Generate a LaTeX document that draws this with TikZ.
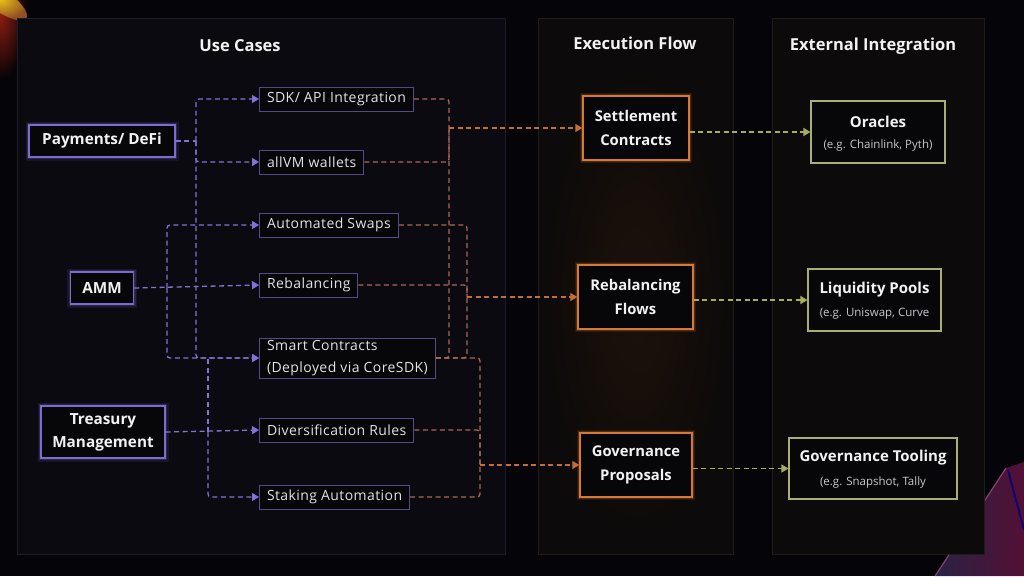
\documentclass[tikz,border=0pt]{standalone}
\usepackage{fontspec}
\setmainfont{Open Sans}
\newfontfamily\midfont[LetterSpace=3]{Open Sans}
\usetikzlibrary{arrows.meta}
\definecolor{bgc}{HTML}{050408}
\definecolor{panelA}{HTML}{0B0A10}
\definecolor{panelAb}{HTML}{1E1C2A}
\definecolor{panelB}{HTML}{0C0A0A}
\definecolor{panelBb}{HTML}{221C18}
\definecolor{purB}{HTML}{7E6BD2}
\definecolor{purM}{HTML}{544A88}
\definecolor{purL}{HTML}{8372D6}
\definecolor{oraB}{HTML}{D57838}
\definecolor{oraL}{HTML}{C46D38}
\definecolor{oraF}{HTML}{A8685A}
\definecolor{grnB}{HTML}{A9AF74}
\definecolor{grnL}{HTML}{A6AE5C}
\definecolor{txt}{HTML}{F2F2F2}
\definecolor{mtxt}{HTML}{E2E2E6}
\definecolor{subt}{HTML}{C8C8C8}
\definecolor{nodefill}{HTML}{070609}
\begin{document}
\begin{tikzpicture}[x=1pt,y=-1pt,
  panel/.style={draw=panelAb,fill=panelA,line width=0.8pt},
  panelx/.style={draw=panelBb,fill=panelB,line width=0.8pt},
  ttl/.style={text=txt,font=\bfseries\fontsize{16.5}{18}\selectfont},
  pnode/.style={draw=purB,fill=nodefill,line width=1.4pt,text=txt,align=center,
    font=\bfseries\fontsize{15.3}{23}\selectfont,
    preaction={draw=purB,line width=7pt,opacity=0.12},
    preaction={draw=purB,line width=4pt,opacity=0.2}},
  mnode/.style={draw=purM,fill=nodefill,line width=1pt,text=mtxt,align=left,anchor=west,
    font=\midfont\fontsize{14}{22}\selectfont,inner xsep=7.5pt,inner ysep=0pt,minimum height=24pt},
  onode/.style={draw=oraB,fill=nodefill,line width=1.4pt,text=txt,align=center,
    font=\bfseries\fontsize{14.8}{24}\selectfont,
    preaction={draw=oraB,line width=6pt,opacity=0.12},
    preaction={draw=oraB,line width=3.5pt,opacity=0.2}},
  gnode/.style={draw=grnB,fill=nodefill,line width=1.1pt},
  gtitle/.style={text=txt,font=\bfseries\fontsize{15}{18}\selectfont},
  subl/.style={text=subt,font=\fontsize{11.5}{13}\selectfont},
  pd/.style={draw=purL,line width=1.3pt,dash pattern=on 5pt off 3.5pt,rounded corners=3pt},
  pa/.style={pd,-{Triangle[length=7pt,width=8pt]}},
  od/.style={draw=oraF,line width=1.3pt,dash pattern=on 5pt off 3.5pt,rounded corners=3pt},
  oa/.style={od,draw=oraL,-{Triangle[length=7pt,width=8pt]}},
  ga/.style={draw=grnL,line width=1.3pt,dash pattern=on 5pt off 3.5pt,-{Triangle[length=7pt,width=8pt]}}
]
\fill[bgc] (0,0) rectangle (1024,576);
\useasboundingbox (0,0) rectangle (1024,576);
% decorations
\begin{scope}
\clip (0,0) rectangle (1024,576);
\shade[inner color=red!60!oraB!70!black,outer color=bgc,opacity=0.9] (0,10) ellipse (28 and 70);
\shade[inner color=yellow!60!oraB,outer color=oraB!70!black,opacity=0.95,rotate around={-35:(0,0)}] (0,0) ellipse (32 and 11);
\shade[left color=purB!40!black,right color=purple!70!purB!60!black,opacity=0.8]
  (935,576) -- (1006,468) -- (1024,462) -- (1024,576) -- cycle;
\draw[red!40!purB!80!white,line width=1.2pt,opacity=0.6] (935,576) -- (1006,468);
\draw[blue!50!black,line width=2pt,opacity=0.8] (1008,470) -- (1024,530);
\end{scope}
% panels
\draw[panel] (17,18) rectangle (505,554);
\draw[panelx] (538,18) rectangle (733,554);
\draw[panelx] (772,18) rectangle (984,554);
\shade[inner color=oraB!22!black,outer color=panelB,opacity=0.5] (636,300) ellipse (95 and 240);
\node[ttl] (t1) at (240,46) {Use Cases};
\node[ttl] (t2) at (635,43) {Execution Flow};
\node[ttl] (t3) at (873,46) {External Integration};
% left nodes
\node[pnode,minimum width=146pt,minimum height=32pt] (pay) at (102,141) {Payments/ DeFi};
\node[pnode,minimum width=63pt,minimum height=32pt] (amm) at (102,288) {AMM};
\node[pnode,minimum width=124pt,minimum height=52pt] (tre) at (103,432) {Treasury\\Management};
% middle nodes
\node[mnode] (sdk) at (259,99) {SDK/ API Integration};
\node[mnode] (avm) at (259,162) {allVM wallets};
\node[mnode] (swp) at (259,225) {Automated Swaps};
\node[mnode] (reb) at (259,285) {Rebalancing};
\node[mnode,minimum height=40pt] (sc) at (259,358) {Smart Contracts\\(Deployed via CoreSDK)};
\node[mnode] (div) at (259,430) {Diversification Rules};
\node[mnode] (sta) at (259,497) {Staking Automation};
% execution nodes
\node[onode,minimum width=106pt,minimum height=64pt] (set) at (636,128) {Settlement\\Contracts};
\node[onode,minimum width=115pt,minimum height=64pt] (rfl) at (635.5,297) {Rebalancing\\Flows};
\node[onode,minimum width=112pt,minimum height=64pt] (gov) at (636,465) {Governance\\Proposals};
% external nodes
\node[gnode,minimum width=134pt,minimum height=62pt] (ora) at (878,132) {};
\node[gtitle] (orat) at (878,122) {Oracles};
\node[subl] (oras) at (878,146) {(e.g. Chainlink, Pyth)};
\node[gnode,minimum width=133pt,minimum height=62pt] (liq) at (874.5,300) {};
\node[gtitle] (liqt) at (874.5,290) {Liquidity Pools};
\node[subl] (liqs) at (874.5,314) {(e.g. Uniswap, Curve};
\node[gnode,minimum width=168pt,minimum height=61pt] (gto) at (873,468.5) {};
\node[gtitle] (gtot) at (873,458) {Governance Tooling};
\node[subl] (gtos) at (873,483) {(e.g. Snapshot, Tally};
% junction coordinates
\coordinate (xA) at (196,0);
\coordinate (xB) at (167,0);
\coordinate (xC) at (208,0);
\coordinate (xD) at (449,0);
\coordinate (xE) at (467,0);
\coordinate (xF) at (480,0);
% purple: payments
\draw[pd] (pay.east) -- (pay.east -| xA);
\draw[pa] (pay.east -| xA) |- (sdk.west);
\draw[pa] (pay.east -| xA) |- (avm.west);
\draw[pa] (pay.east -| xA) |- (sc.west);
% purple: AMM
\draw[pa] (amm.east) -- (reb.west);
\draw[pa] (amm.east -| xB) |- (swp.west);
\draw[pa] (amm.east -| xB) |- (sc.west);
% purple: treasury
\draw[pa] (tre.east) -- (div.west);
\draw[pd] (tre.east -| xC) -- (sc.west -| xC);
\draw[pa] (tre.east -| xC) |- (sta.west);
% orange: settlement
\draw[od] (sdk.east) -| (xD |- set.west);
\draw[od] (avm.east) -| (xD |- set.west);
\draw[od] (sc.east) -| (xD |- set.west);
\draw[oa] (xD |- set.west) -- (set.west);
% orange: rebalancing flows
\draw[od] (swp.east) -| (xE |- rfl.west);
\draw[od] (reb.east) -| (xE |- rfl.west);
\draw[od] (sc.east) -| (xE |- rfl.west);
\draw[oa] (xE |- rfl.west) -- (rfl.west);
% orange: governance
\draw[od] (sc.east) -| (xF |- gov.west);
\draw[od] (div.east) -| (xF |- gov.west);
\draw[od] (sta.east) -| (xF |- gov.west);
\draw[oa] (xF |- gov.west) -- (gov.west);
% green
\draw[ga] (set.east |- ora.west) -- (ora.west);
\draw[ga] (rfl.east |- liq.west) -- (liq.west);
\draw[ga] (gov.east |- gto.west) -- (gto.west);
\end{tikzpicture}
\end{document}
